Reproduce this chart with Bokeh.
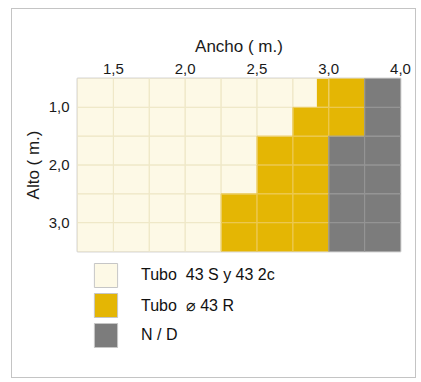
from bokeh.plotting import figure
from bokeh.layouts import column
from bokeh.models import Range1d, FixedTicker, Legend, LegendItem, ColumnDataSource
from bokeh.embed import file_html
from bokeh.resources import INLINE

# ---- data ----
n_cols = 9
n_rows = 6
x_tick_pos = [1, 3, 5, 7, 9]
x_tick_labels = ["1,5", "2,0", "2,5", "3,0", "4,0"]
y_tick_pos = [1, 3, 5]
y_tick_labels = ["1,0", "2,0", "3,0"]
# per row (top to bottom): grid column where "Tubo ⌀ 43 R" begins and where "N / D" begins
yellow_start = [6.67, 6, 5, 5, 4, 4]
gray_start = [8, 8, 7, 7, 7, 7]
categories = ["Tubo  43 S y 43 2c", "Tubo  \u2300 43 R", "N / D"]
fills = ["#fdf9e6", "#e4b604", "#7c7c7c"]
cell_lines = ["#efe8c8", "#ecc850", "#959595"]

FONT = "Liberation Sans"

# ---- build sources ----
seg = dict(left=[], right=[], top=[], bottom=[], color=[])
for r in range(n_rows):
    bounds = [0, yellow_start[r], gray_start[r], n_cols]
    for k in range(3):
        if bounds[k + 1] > bounds[k]:
            seg["left"].append(bounds[k])
            seg["right"].append(bounds[k + 1])
            seg["top"].append(r)
            seg["bottom"].append(r + 1)
            seg["color"].append(fills[k])

cells = dict(left=[], right=[], top=[], bottom=[], lc=[])
for r in range(n_rows):
    for c in range(n_cols):
        mid = c + 0.5
        k = 0 if mid < yellow_start[r] else (1 if mid < gray_start[r] else 2)
        cells["left"].append(c)
        cells["right"].append(c + 1)
        cells["top"].append(r)
        cells["bottom"].append(r + 1)
        cells["lc"].append(cell_lines[k])

p = figure(width=403, height=246, output_backend="svg", toolbar_location=None,
           x_range=Range1d(0, n_cols), y_range=Range1d(n_rows, 0),
           x_axis_location="above",
           min_border_left=65, min_border_right=15, min_border_top=69, min_border_bottom=4)
p.background_fill_color = "white"
p.border_fill_color = "white"
p.outline_line_color = "#d6d6d6"
p.outline_line_width = 2
p.grid.visible = False

p.quad(left="left", right="right", top="top", bottom="bottom", fill_color="color",
       line_color=None, source=ColumnDataSource(seg))
p.quad(left="left", right="right", top="top", bottom="bottom", fill_color=None,
       line_color="lc", line_width=1, source=ColumnDataSource(cells))

# axes
p.xaxis.ticker = FixedTicker(ticks=x_tick_pos)
p.xaxis.major_label_overrides = {t: l for t, l in zip(x_tick_pos, x_tick_labels)}
p.yaxis.ticker = FixedTicker(ticks=y_tick_pos)
p.yaxis.major_label_overrides = {t: l for t, l in zip(y_tick_pos, y_tick_labels)}
p.xaxis.axis_label = "Ancho ( m.)"
p.yaxis.axis_label = "Alto ( m.)"
for ax in (p.xaxis, p.yaxis):
    ax.axis_line_color = None
    ax.major_tick_line_color = None
    ax.minor_tick_line_color = None
    ax.major_tick_out = 0
    ax.major_tick_in = 0
    ax.major_label_text_font = FONT
    ax.major_label_text_font_size = "15px"
    ax.major_label_text_color = "#1a1a1a"
    ax.axis_label_text_font = FONT
    ax.axis_label_text_font_size = "17px"
    ax.axis_label_text_font_style = "normal"
    ax.axis_label_text_color = "#1a1a1a"
p.xaxis.major_label_standoff = 5
p.xaxis.axis_label_standoff = 5
p.yaxis.major_label_standoff = 8
p.yaxis.axis_label_standoff = 3

# legend panel
q = figure(width=403, height=122, output_backend="svg", toolbar_location=None,
           x_range=Range1d(0, 1), y_range=Range1d(0, 1),
           x_axis_location=None, y_axis_location=None,
           min_border_left=0, min_border_right=0, min_border_top=0, min_border_bottom=0)
q.outline_line_color = None
q.grid.visible = False
q.background_fill_color = "white"
q.border_fill_color = "white"
items = []
for k in range(3):
    rr = q.quad(left=[5], right=[6], top=[6], bottom=[5], fill_color=fills[k],
                line_color="#c6c6c6", line_width=1)
    items.append(LegendItem(label=categories[k], renderers=[rr]))
leg = Legend(items=items, location=(14, 27), glyph_width=29, glyph_height=30,
             spacing=0, padding=0, margin=0, border_line_color=None,
             background_fill_alpha=0, label_standoff=21,
             label_text_font=FONT, label_text_font_size="16px",
             label_text_color="#111111", label_height=30)
q.add_layout(leg, "center")

layout = column(p, q, spacing=0,
                styles={"border": "1px solid #c4c4c4", "margin-left": "11px", "margin-top": "8px"})

open("out.html", "w").write(file_html(layout, INLINE))
